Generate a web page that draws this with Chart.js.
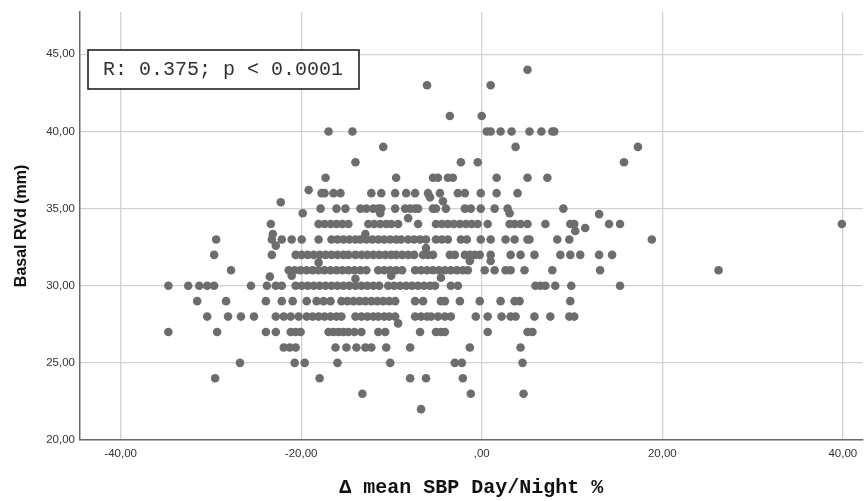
<!DOCTYPE html>
<html lang="en">
<head>
    <meta charset="UTF-8">
    <title>Basal RVd vs Δ mean SBP Day/Night</title>
    <script src="https://cdn.jsdelivr.net/npm/chart.js"></script>
    <style>
        html, body { margin: 0; padding: 0; background: #fff; }
        #wrap { position: relative; width: 867px; height: 501px; }
    </style>
</head>
<body>
    <div id="wrap"><canvas id="scatter"></canvas></div>

    <script>
        // Δ mean SBP Day/Night % values, grouped by the Basal RVd (mm) row they sit on
        const sbpAt22 = [-6.72];
        const sbpAt23 = [-13.22, -1.21, 4.63];
        const sbpAt24 = [-29.53, -17.96, -7.93, -6.17, -2.09];
        const sbpAt25 = [-26.78, -20.72, -19.61, -15.98, -10.14, -2.98, -2.20, 4.52];
        const sbpAt26 = [-21.93, -21.27, -20.61, -16.20, -14.99, -13.88, -12.89, -12.23, -10.58, -7.93, -1.32, 4.30];
        const sbpAt27 = [-34.71, -29.31, -23.91, -22.81, -21.16, -20.61, -20.06, -16.97, -16.42, -15.87, -15.32, -14.77,
            -14.10, -13.33, -11.46, -10.69, -6.83, -5.07, -4.52, -4.08, 0.66, 5.07, 5.62];
        const sbpAt28 = [-30.41, -28.10, -26.67, -25.23, -22.81, -21.93, -21.16, -20.28, -19.39, -18.73, -18.07, -17.41,
            -16.75, -16.09, -15.54, -13.99, -13.33, -12.67, -12.01, -11.46, -10.80, -10.25, -9.59, -7.38, -6.72, -6.06,
            -5.62, -4.85, -4.08, -3.42, -0.66, 0.66, 2.20, 3.20, 3.75, 5.84, 7.60, 9.70, 10.25];
        const sbpAt29 = [-31.52, -28.32, -23.91, -22.15, -20.94, -19.39, -18.29, -17.52, -16.75, -15.54, -14.88, -14.21,
            -13.55, -12.89, -12.23, -11.57, -10.91, -10.25, -9.59, -7.38, -6.50, -4.52, -4.08, -2.42, -0.22, 2.09, 3.64,
            4.19, 9.81];
        const sbpAt30 = [-34.71, -32.51, -31.29, -30.41, -29.64, -25.56, -23.80, -22.81, -22.15, -20.61, -19.94, -19.28,
            -18.62, -17.96, -17.30, -16.64, -15.98, -15.32, -14.66, -13.99, -13.33, -12.67, -12.01, -11.35, -10.36, -9.70,
            -9.04, -8.37, -7.71, -7.05, -6.39, -5.73, -5.18, -3.42, -2.64, 5.95, 6.50, 7.05, 8.15, 9.92, 15.32];
        const sbpAt31 = [-27.77, -21.38, -20.72, -20.06, -19.39, -18.73, -18.07, -17.41, -16.75, -16.09, -15.43, -14.77,
            -14.10, -13.44, -12.78, -11.46, -10.80, -10.14, -9.48, -8.82, -7.38, -6.72, -6.06, -5.40, -4.74, -4.08, -3.42,
            -2.75, -2.09, -1.54, 0.33, 1.43, 2.64, 3.20, 4.74, 7.82, 13.11, 26.23];
        const sbpAt32 = [-29.64, -23.25, -20.61, -19.94, -19.28, -18.62, -17.96, -17.30, -16.64, -15.98, -15.32, -14.77,
            -13.99, -13.33, -12.67, -12.01, -11.35, -10.69, -10.03, -9.48, -8.82, -8.15, -7.49, -6.50, -5.95, -5.40, -3.53,
            -2.98, -1.87, -1.32, -0.77, -0.22, 0.99, 3.20, 4.30, 5.84, 8.71, 9.81, 10.91, 13.00, 14.44];
        const sbpAt33 = [-29.42, -23.25, -22.15, -21.05, -19.94, -18.07, -16.64, -15.98, -15.32, -14.66, -13.99, -13.44,
            -12.78, -12.12, -11.46, -10.80, -10.14, -9.48, -8.93, -8.15, -7.49, -6.83, -6.17, -5.07, -4.41, -3.75, -2.31,
            -1.65, -0.11, 0.99, 2.64, 3.64, 5.07, 5.29, 8.37, 9.70, 18.84];
        const sbpAt34 = [-23.36, -18.07, -17.41, -16.75, -16.09, -15.43, -14.77, -12.56, -11.90, -11.24, -10.58, -10.03,
            -9.26, -7.05, -5.07, -4.41, -3.75, -3.09, -2.42, -1.76, -1.10, -0.44, 0.66, 3.09, 3.64, 4.30, 5.07, 7.05,
            9.81, 10.25, 14.10, 15.32, 39.89];
        const sbpAt35 = [-17.85, -16.09, -15.10, -13.44, -12.78, -12.01, -11.46, -11.13, -9.59, -8.48, -7.93, -7.38,
            -7.05, -5.40, -5.07, -3.97, -1.87, -1.21, -0.11, 1.43, 2.87, 9.04];
        const sbpAt36 = [-17.74, -17.41, -16.42, -15.65, -12.23, -11.13, -9.59, -8.37, -7.38, -5.95, -4.63, -2.64,
            -1.87, -0.11, 1.65, 3.97];
        const sbpAt37 = [-17.30, -9.48, -5.40, -4.85, -3.75, -3.20, 1.65, 5.07, 7.27];
        const sbpAt38 = [-13.99, -2.31, -0.44, 15.76];
        const sbpAt39 = [-10.91, 3.75, 17.30];
        const sbpAt40 = [-16.97, -14.32, 0.55, 0.99, 2.09, 3.31, 5.29, 6.61, 7.82, 8.04];
        const sbpAt41 = [-3.53, 0.0];
        const sbpAt43 = [-6.06, 0.99];
        const sbpAt44 = [5.07];

        const rvdLevels = [22, 23, 24, 25, 26, 27, 28, 29, 30, 31, 32, 33, 34, 35, 36, 37, 38, 39, 40, 41, 43, 44];
        const sbpByLevel = [sbpAt22, sbpAt23, sbpAt24, sbpAt25, sbpAt26, sbpAt27, sbpAt28, sbpAt29, sbpAt30, sbpAt31,
            sbpAt32, sbpAt33, sbpAt34, sbpAt35, sbpAt36, sbpAt37, sbpAt38, sbpAt39, sbpAt40, sbpAt41, sbpAt43, sbpAt44];

        // cases that fall between the whole-mm rows
        const offSbp = [-19.17, -22.26, -19.83, -5.73, -4.30, 3.09, 13.00, 10.36, 11.46, -23.14, -23.47, -4.52, -9.26,
            -6.17, -12.89, -22.81, -11.24, -8.15, -1.32, 0.99, -21.05, -18.07, -13.99, -10.03];
        const offRvd = [36.2, 35.41, 34.70, 35.73, 35.48, 34.70, 34.64, 33.55, 33.74, 33.35, 30.59, 30.52, 27.56,
            32.45, 33.35, 32.6, 34.70, 34.38, 31.6, 31.6, 30.65, 31.5, 30.45, 30.65];

        const xTicks = [-40, -20, 0, 20, 40];
        const yTicks = [20, 25, 30, 35, 40, 45];
        const statsLabel = 'R: 0.375; p < 0.0001';

        const points = [];
        rvdLevels.forEach((rvd, i) => sbpByLevel[i].forEach(sbp => points.push({ x: sbp, y: rvd })));
        offSbp.forEach((sbp, i) => points.push({ x: sbp, y: offRvd[i] }));

        function spssNumber(v) {
            if (v === 0) return ',00';
            return v.toFixed(2).replace('.', ',');
        }

        // boxed correlation note in the top left corner
        const statsBox = {
            id: 'statsBox',
            afterDraw(chart) {
                const ctx = chart.ctx;
                ctx.save();
                ctx.fillStyle = '#fff';
                ctx.fillRect(88, 50, 271, 39);
                ctx.strokeStyle = '#222';
                ctx.lineWidth = 1.6;
                ctx.strokeRect(88, 50, 271, 39);
                ctx.fillStyle = '#333';
                ctx.font = '20px "Liberation Mono", "Courier New", monospace';
                ctx.textBaseline = 'middle';
                ctx.fillText(statsLabel, 103, 70);
                ctx.restore();
            }
        };

        const tickFont = { family: '"Liberation Sans", Arial, sans-serif', size: 11.5 };

        new Chart(document.getElementById('scatter'), {
            type: 'scatter',
            data: {
                datasets: [{
                    data: points,
                    backgroundColor: '#6d6d6d',
                    borderWidth: 0,
                    pointRadius: 4.3,
                    pointHoverRadius: 4.3
                }]
            },
            options: {
                responsive: true,
                maintainAspectRatio: false,
                animation: false,
                layout: { padding: { top: 9, right: 0, bottom: 0, left: 0 } },
                plugins: {
                    legend: { display: false },
                    tooltip: { enabled: false }
                },
                scales: {
                    x: {
                        type: 'linear',
                        min: -44.5,
                        max: 42.2,
                        afterBuildTicks: s => { s.ticks = xTicks.map(v => ({ value: v })); },
                        afterFit: s => { s.height = 61; },
                        grid: { color: '#d2d2d2', lineWidth: 1.3, drawTicks: false },
                        border: { color: '#6a6a6a', width: 1.5 },
                        ticks: { padding: 7, color: '#333', font: tickFont, callback: v => spssNumber(v), maxRotation: 0 },
                        title: {
                            display: true,
                            text: 'Δ mean SBP Day/Night %',
                            color: '#111',
                            padding: { top: 0, bottom: 1 },
                            font: { family: '"Liberation Mono", "Courier New", monospace', size: 20, weight: 'bold' }
                        }
                    },
                    y: {
                        type: 'linear',
                        min: 20,
                        max: 47.75,
                        afterBuildTicks: s => { s.ticks = yTicks.map(v => ({ value: v })); },
                        afterFit: s => { s.width = 80; },
                        grid: { color: '#d2d2d2', lineWidth: 1.3, drawTicks: false },
                        border: { color: '#6a6a6a', width: 1.5 },
                        ticks: { padding: 5, color: '#333', font: tickFont, callback: v => spssNumber(v) },
                        title: {
                            display: true,
                            text: 'Basal RVd (mm)',
                            color: '#111',
                            padding: { top: 12, bottom: 0 },
                            font: { family: '"Liberation Sans", Arial, sans-serif', size: 16, weight: 'bold' }
                        }
                    }
                }
            },
            plugins: [statsBox]
        });
    </script>
</body>
</html>
